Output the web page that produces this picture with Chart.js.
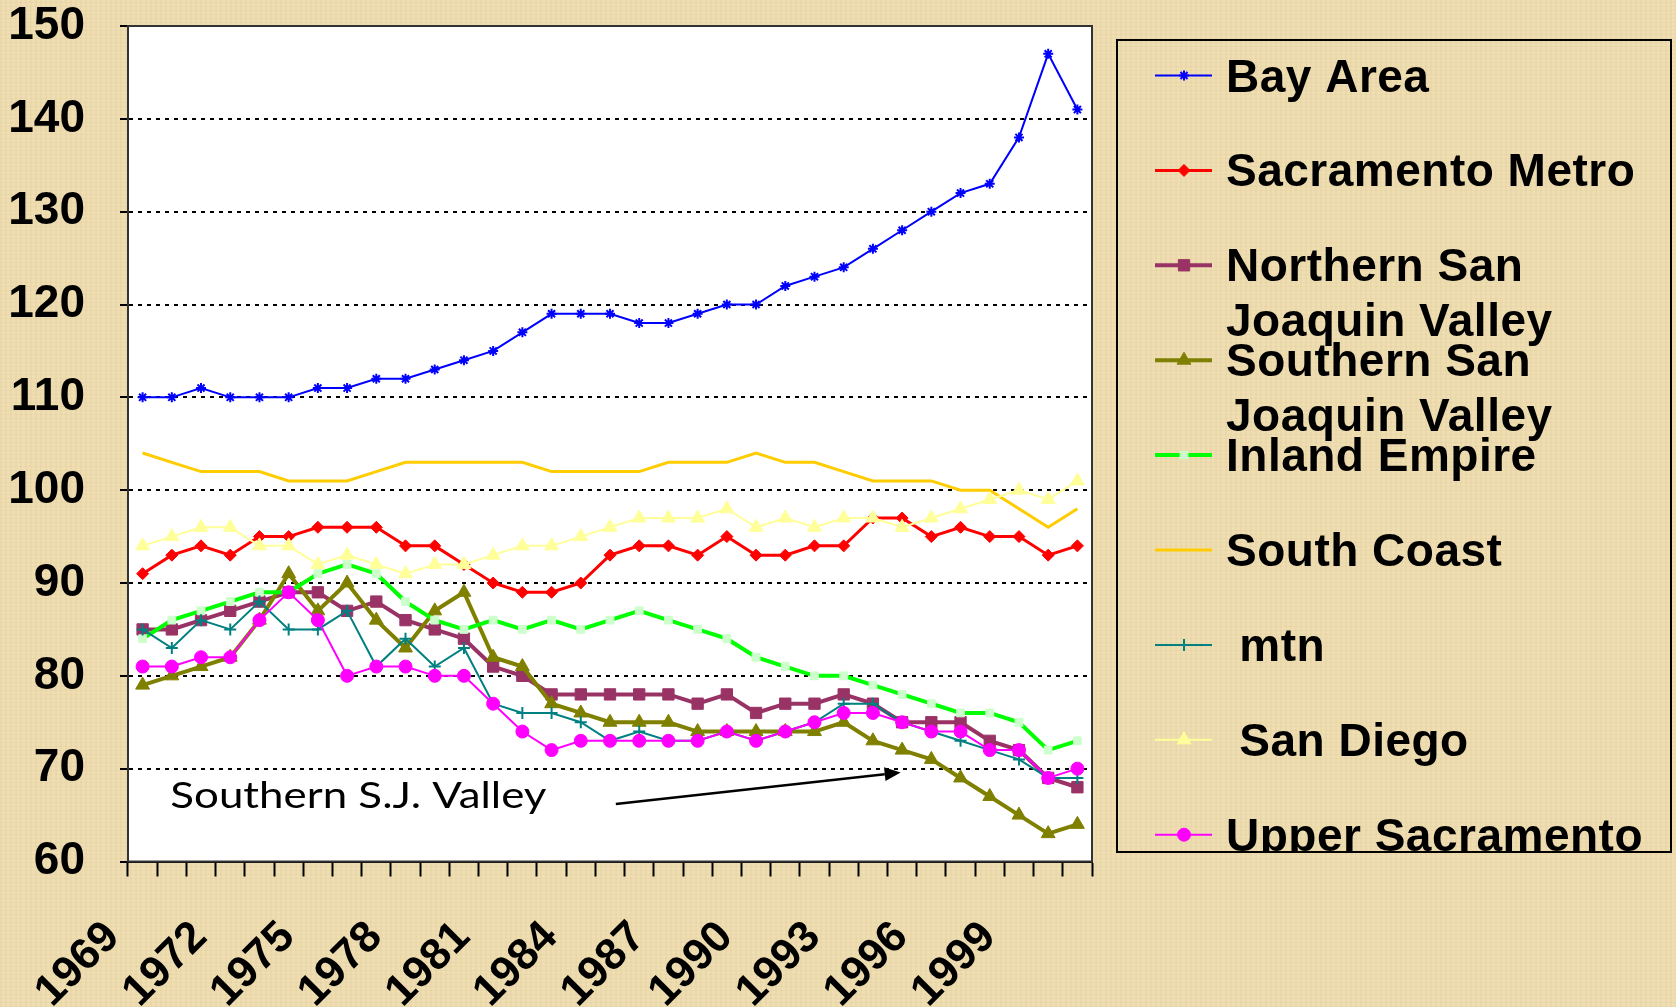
<!DOCTYPE html>
<html lang="en">
<head>
  <meta charset="UTF-8">
  <title>Regional index 1969-2001</title>
  <script src="https://cdn.jsdelivr.net/npm/chart.js"></script>
  <style>
    body {
      margin: 0;
      background:
        repeating-linear-gradient(90deg, rgba(150, 120, 60, 0.05) 0 2px, transparent 2px 5px),
        repeating-linear-gradient(0deg, rgba(150, 120, 60, 0.05) 0 1px, transparent 1px 4px),
        #efdeb2;
    }
    canvas {
      display: block;
    }
  </style>
</head>
<body>

  <canvas id="chart" width="1676" height="1007"></canvas>

  <script>
    const years = [1969, 1970, 1971, 1972, 1973, 1974, 1975, 1976, 1977, 1978, 1979,
      1980, 1981, 1982, 1983, 1984, 1985, 1986, 1987, 1988, 1989, 1990,
      1991, 1992, 1993, 1994, 1995, 1996, 1997, 1998, 1999, 2000, 2001];

    const bayArea = [110, 110, 111, 110, 110, 110, 111, 111, 112, 112, 113, 114, 115, 117, 119, 119, 119,
      118, 118, 119, 120, 120, 122, 123, 124, 126, 128, 130, 132, 133, 138, 147, 141];
    const sacramentoMetro = [91, 93, 94, 93, 95, 95, 96, 96, 96, 94, 94, 92, 90, 89, 89, 90, 93,
      94, 94, 93, 95, 93, 93, 94, 94, 97, 97, 95, 96, 95, 95, 93, 94];
    const northernSJV = [85, 85, 86, 87, 88, 89, 89, 87, 88, 86, 85, 84, 81, 80, 78, 78, 78,
      78, 78, 77, 78, 76, 77, 77, 78, 77, 75, 75, 75, 73, 72, 69, 68];
    const southernSJV = [79, 80, 81, 82, 86, 91, 87, 90, 86, 83, 87, 89, 82, 81, 77, 76, 75,
      75, 75, 74, 74, 74, 74, 74, 75, 73, 72, 71, 69, 67, 65, 63, 64];
    const inlandEmpire = [84, 86, 87, 88, 89, 89, 91, 92, 91, 88, 86, 85, 86, 85, 86, 85, 86,
      87, 86, 85, 84, 82, 81, 80, 80, 79, 78, 77, 76, 76, 75, 72, 73];
    const southCoast = [104, 103, 102, 102, 102, 101, 101, 101, 102, 103, 103, 103, 103, 103, 102, 102, 102,
      102, 103, 103, 103, 104, 103, 103, 102, 101, 101, 101, 100, 100, 98, 96, 98];
    const mtn = [85, 83, 86, 85, 88, 85, 85, 87, 81, 84, 81, 83, 77, 76, 76, 75, 73,
      74, 73, 73, 74, 73, 74, 75, 77, 77, 75, 74, 73, 72, 71, 69, 69];
    const sanDiego = [94, 95, 96, 96, 94, 94, 92, 93, 92, 91, 92, 92, 93, 94, 94, 95, 96,
      97, 97, 97, 98, 96, 97, 96, 97, 97, 96, 97, 98, 99, 100, 99, 101];
    const upperSacramento = [81, 81, 82, 82, 86, 89, 86, 80, 81, 81, 80, 80, 77, 74, 72, 73, 73,
      73, 73, 73, 74, 73, 74, 75, 76, 76, 75, 74, 74, 72, 72, 69, 70];

    const yTicks = [60, 70, 80, 90, 100, 110, 120, 130, 140, 150];

    const noteText = 'Southern S.J. Valley';
    const noteAt = { x: 0.95, y: 65.77 };
    const arrowFrom = { x: 16.2, y: 66.2 };
    const arrowTo = { x: 25.95, y: 69.6 };

    const series = [
      { label: 'Bay Area', data: bayArea, color: '#0000ff', width: 2, style: 'star', radius: 5, fill: '#0000ff', pw: 2 },
      { label: 'Sacramento Metro', data: sacramentoMetro, color: '#ff0000', width: 3, style: 'rectRot', radius: 6, fill: '#ff0000', pw: 1 },
      { label: 'Northern San Joaquin Valley', data: northernSJV, color: '#993366', width: 4, style: 'rect', radius: 8, fill: '#993366', pw: 1 },
      { label: 'Southern San Joaquin Valley', data: southernSJV, color: '#808000', width: 4, style: 'triangle', radius: 8, fill: '#808000', pw: 1 },
      { label: 'Inland Empire', data: inlandEmpire, color: '#00ff00', width: 4, style: 'rect', radius: 5.5, fill: '#ccffcc', pw: 1 },
      { label: 'South Coast', data: southCoast, color: '#ffcc00', width: 3, style: 'circle', radius: 0, fill: '#ffcc00', pw: 0 },
      { label: ' mtn', data: mtn, color: '#008080', width: 2, style: 'cross', radius: 6, fill: '#008080', pw: 2 },
      { label: ' San Diego', data: sanDiego, color: '#ffff99', width: 2, style: 'triangle', radius: 8, fill: '#ffff99', pw: 1 },
      { label: 'Upper Sacramento', data: upperSacramento, color: '#ff00ff', width: 2, style: 'circle', radius: 6.5, fill: '#ff00ff', pw: 1 }
    ];

    const plotBackground = {
      id: 'plotBackground',
      beforeDraw(chart) {
        const { ctx, chartArea: a } = chart;
        ctx.save();
        ctx.fillStyle = '#ffffff';
        ctx.fillRect(a.left, a.top, a.right - a.left, a.bottom - a.top);
        ctx.restore();
      },
      beforeDatasetsDraw(chart) {
        const { ctx, chartArea: a } = chart;
        ctx.save();
        ctx.strokeStyle = '#333333';
        ctx.lineWidth = 2;
        ctx.strokeRect(a.left, a.top, a.right - a.left, a.bottom - a.top);
        ctx.restore();
      }
    };

    // text label with an arrow pointing at the Southern S.J. Valley line
    const notePlugin = {
      id: 'note',
      afterDatasetsDraw(chart) {
        const { ctx, scales: { x, y } } = chart;
        ctx.save();
        ctx.font = '37px Lato, "Noto Sans", sans-serif';
        const w = ctx.measureText(noteText).width;
        const tx = x.getPixelForValue(noteAt.x), ty = y.getPixelForValue(noteAt.y);
        ctx.translate(tx, ty);
        ctx.scale(376 / w, 1);
        ctx.fillStyle = '#000';
        ctx.fillText(noteText, 0, 0);
        ctx.restore();

        const x1 = x.getPixelForValue(arrowFrom.x), y1 = y.getPixelForValue(arrowFrom.y);
        const x2 = x.getPixelForValue(arrowTo.x), y2 = y.getPixelForValue(arrowTo.y);
        const ang = Math.atan2(y2 - y1, x2 - x1);
        const head = 16;
        ctx.save();
        ctx.strokeStyle = '#000';
        ctx.fillStyle = '#000';
        ctx.lineWidth = 2.5;
        ctx.beginPath();
        ctx.moveTo(x1, y1);
        ctx.lineTo(x2 - head * Math.cos(ang), y2 - head * Math.sin(ang));
        ctx.stroke();
        ctx.beginPath();
        ctx.moveTo(x2, y2);
        ctx.lineTo(x2 - head * Math.cos(ang) + 7 * Math.sin(ang), y2 - head * Math.sin(ang) - 7 * Math.cos(ang));
        ctx.lineTo(x2 - head * Math.cos(ang) - 7 * Math.sin(ang), y2 - head * Math.sin(ang) + 7 * Math.cos(ang));
        ctx.closePath();
        ctx.fill();
        ctx.restore();
      }
    };

    function wrapText(ctx, text, maxWidth) {
      const indent = text.match(/^\s*/)[0];
      const words = text.trim().split(' ');
      const lines = [];
      let line = indent + words[0];
      words.slice(1).forEach(word => {
        const test = line + ' ' + word;
        if (ctx.measureText(test).width > maxWidth) {
          lines.push(line);
          line = word;
        } else {
          line = test;
        }
      });
      lines.push(line);
      return lines;
    }

    const sideLegend = {
      id: 'sideLegend',
      afterDraw(chart) {
        const ctx = chart.ctx;
        const box = { left: 1117, top: 40, right: 1671, bottom: 852 };
        ctx.save();
        ctx.strokeStyle = '#000';
        ctx.lineWidth = 2;
        ctx.strokeRect(box.left, box.top, box.right - box.left, box.bottom - box.top);
        ctx.beginPath();
        ctx.rect(box.left, box.top, box.right - box.left, box.bottom - box.top);
        ctx.clip();
        ctx.font = 'bold 46px "Liberation Sans", Arial, sans-serif';
        ctx.letterSpacing = '0.5px';
        ctx.textBaseline = 'alphabetic';
        chart.data.datasets.forEach((ds, i) => {
          const rowY = box.top + 35.5 + i * 94.9;
          ctx.strokeStyle = ds.borderColor;
          ctx.lineWidth = ds.borderWidth;
          ctx.beginPath();
          ctx.moveTo(1155, rowY);
          ctx.lineTo(1212, rowY);
          ctx.stroke();
          if (ds.pointRadius > 0 && Chart.helpers && Chart.helpers.drawPoint) {
            ctx.fillStyle = ds.pointBackgroundColor;
            ctx.strokeStyle = ds.pointBorderColor;
            ctx.lineWidth = ds.pointBorderWidth;
            Chart.helpers.drawPoint(ctx, {
              pointStyle: ds.pointStyle,
              radius: ds.pointRadius,
              borderWidth: ds.pointBorderWidth,
              rotation: 0
            }, 1184, rowY);
          }
          ctx.fillStyle = '#000';
          wrapText(ctx, ds.label, 430).forEach((line, k) => {
            ctx.fillText(line, 1226, rowY + 16 + k * 54.7);
          });
        });
        ctx.restore();
      }
    };

    new Chart(document.getElementById('chart').getContext('2d'), {
      type: 'line',
      data: {
        labels: years,
        datasets: series.map((s, i) => ({
          label: s.label,
          data: s.data,
          borderColor: s.color,
          backgroundColor: s.fill,
          borderWidth: s.width,
          pointStyle: s.style,
          pointRadius: s.radius,
          pointHoverRadius: s.radius,
          pointBackgroundColor: s.fill,
          pointBorderColor: s.fill,
          pointBorderWidth: s.pw,
          fill: false,
          tension: 0,
          order: series.length - i
        }))
      },
      options: {
        responsive: false,
        animation: false,
        devicePixelRatio: 1,
        layout: {
          padding: { left: 0, top: 26, right: 584, bottom: 0 }
        },
        plugins: {
          legend: { display: false },
          tooltip: { enabled: false }
        },
        scales: {
          x: {
            offset: true,
            grid: {
              offset: true,
              drawOnChartArea: false,
              drawTicks: true,
              tickLength: 15,
              tickColor: '#000',
              tickWidth: 2
            },
            border: { color: '#000', width: 2 },
            ticks: {
              autoSkip: false,
              minRotation: 45,
              maxRotation: 45,
              padding: 35,
              labelOffset: -30,
              color: '#000',
              font: { family: '"Liberation Sans", Arial, sans-serif', size: 44, weight: 'bold' },
              callback: (value, index) => index % 3 === 0 ? String(years[index]) : ''
            },
            afterFit: scale => {
              scale.height = 145.5;
              scale.paddingLeft = 0;
              scale.paddingRight = 0;
            }
          },
          y: {
            min: yTicks[0],
            max: yTicks[yTicks.length - 1],
            afterBuildTicks: scale => { scale.ticks = yTicks.map(v => ({ value: v })); },
            grid: {
              color: c => (c.tick && (c.tick.value === 60 || c.tick.value === 150)) ? 'rgba(0,0,0,0)' : '#000',
              lineWidth: 2,
              tickLength: 8,
              tickColor: '#000',
              tickWidth: 2
            },
            border: { color: '#000', width: 2, dash: [4, 5] },
            ticks: {
              padding: 35,
              color: '#000',
              font: { family: '"Liberation Sans", Arial, sans-serif', size: 46, weight: 'bold' }
            },
            afterFit: scale => {
              scale.width = 128;
              scale.paddingTop = 0;
              scale.paddingBottom = 0;
            }
          }
        }
      },
      plugins: [plotBackground, notePlugin, sideLegend]
    });
  </script>

</body>
</html>
